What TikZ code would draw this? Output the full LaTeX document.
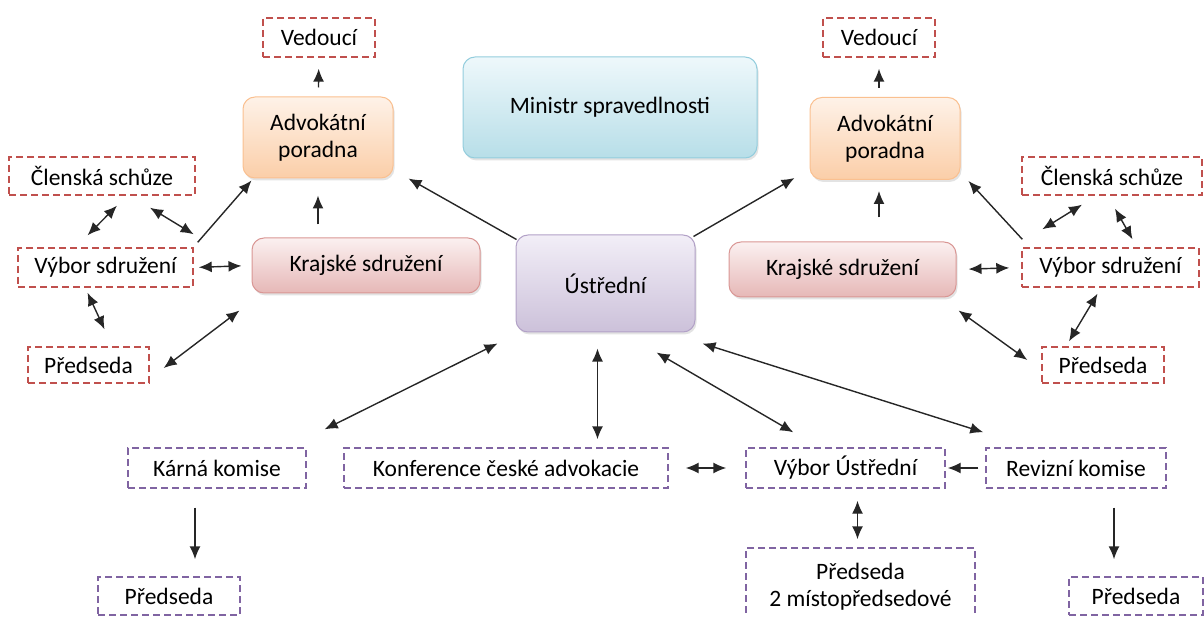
\documentclass[tikz,border=0pt]{standalone}
\usepackage{fontspec}
\setmainfont{Carlito}
\usetikzlibrary{shapes,arrows.meta,positioning,calc,shadows}
\definecolor{boxred}{RGB}{192,80,77}
\definecolor{boxpurple}{RGB}{128,100,162}
\definecolor{ministop}{RGB}{238,248,251}
\definecolor{minisbot}{RGB}{183,222,232}
\definecolor{minisline}{RGB}{147,205,221}
\definecolor{ustrtop}{RGB}{242,238,247}
\definecolor{ustrbot}{RGB}{204,193,218}
\definecolor{ustrline}{RGB}{178,161,199}
\definecolor{advtop}{RGB}{254,242,232}
\definecolor{advbot}{RGB}{251,206,168}
\definecolor{advline}{RGB}{250,192,144}
\definecolor{krajtop}{RGB}{251,240,240}
\definecolor{krajbot}{RGB}{230,184,183}
\definecolor{krajline}{RGB}{217,150,148}

\tikzset{
  solidbox/.style={rectangle, rounded corners=12pt, line width=1pt, align=center, inner sep=0pt,
    drop shadow={opacity=0.22, shadow xshift=1.5pt, shadow yshift=-2.5pt}},
  redbox/.style={rectangle, draw=boxred, dash pattern=on 7pt off 4pt, line width=1.4pt, inner sep=0pt, align=center},
  purplebox/.style={rectangle, draw=boxpurple, dash pattern=on 7pt off 4pt, line width=1.4pt, inner sep=0pt, align=center},
  link/.style={line width=1.4pt, draw=black!85, -{Latex[length=13pt,width=11pt]}},
  both/.style={line width=1.4pt, draw=black!85, {Latex[length=13pt,width=11pt]}-{Latex[length=13pt,width=11pt]}}
}

\begin{document}
\begin{tikzpicture}[x=1pt, y=-1pt, font=\fontsize{23.5}{27}\selectfont]
				\useasboundingbox (0,0) rectangle (1204,617);
				
				% Centre
				\node[solidbox, draw=minisline, top color=ministop, bottom color=minisbot, minimum width=294pt, minimum height=101pt] (minis) at (610,107.5) {Ministr spravedlnosti};
				\node[solidbox, draw=ustrline, top color=ustrtop, bottom color=ustrbot, minimum width=179pt, minimum height=97pt] (ustr) at (605.5,283.5) {Ústřední};
				
				% Left branch
				\node[redbox, minimum width=112pt, minimum height=39pt] (vedL) at (319,37.5) {Vedoucí};
				\node[solidbox, draw=advline, top color=advtop, bottom color=advbot, minimum width=150pt, minimum height=81pt] (advL) at (318,137.5) {Advokátní\\poradna};
				\node[solidbox, draw=krajline, top color=krajtop, bottom color=krajbot, minimum width=228pt, minimum height=55pt] (krajL) at (366,265.5) {Krajské sdružení};
				\node[redbox, minimum width=186pt, minimum height=38pt] (clenL) at (102,176) {Členská schůze};
				\node[redbox, minimum width=175pt, minimum height=39pt] (vybL) at (105.5,267.5) {Výbor sdružení};
				\node[redbox, minimum width=121pt, minimum height=36pt] (predL) at (88.5,365) {Předseda};
				
				% Right branch
				\node[redbox, minimum width=112pt, minimum height=39pt] (vedR) at (879,37.5) {Vedoucí};
				\node[solidbox, draw=advline, top color=advtop, bottom color=advbot, minimum width=150pt, minimum height=82pt] (advR) at (885,138.5) {Advokátní\\poradna};
				\node[solidbox, draw=krajline, top color=krajtop, bottom color=krajbot, minimum width=227pt, minimum height=55pt] (krajR) at (842.5,269.5) {Krajské sdružení};
				\node[redbox, minimum width=180pt, minimum height=38pt] (clenR) at (1112,176) {Členská schůze};
				\node[redbox, minimum width=177pt, minimum height=39pt] (vybR) at (1110.5,267.5) {Výbor sdružení};
				\node[redbox, minimum width=122pt, minimum height=36pt] (predR) at (1103,365) {Předseda};
				
				% Bottom row
				\node[purplebox, minimum width=178pt, minimum height=40pt] (karna) at (217,468) {Kárná komise};
				\node[purplebox, minimum width=324pt, minimum height=40pt] (konf) at (506,468) {Konference české advokacie};
				\node[purplebox, minimum width=199pt, minimum height=40pt] (vybU) at (845.5,468) {Výbor Ústřední};
				\node[purplebox, minimum width=180pt, minimum height=40pt] (reviz) at (1076,468) {Revizní komise};
				\node[purplebox, minimum width=142pt, minimum height=38pt] (predK) at (169,596) {Předseda};
				\node[purplebox, minimum width=229pt, minimum height=78pt] (predU) at (860.5,587) {Předseda\\2 místopředsedové};
				\node[purplebox, minimum width=134pt, minimum height=38pt] (predV) at (1136,596) {Předseda};
				
				% Connections, left
				\draw[link, shorten <=9pt, shorten >=11pt] (advL) -- (vedL);
				\draw[link, shorten <=13pt, shorten >=17pt] (advL.south |- krajL.north) -- (advL.south);
				\draw[link] ([xshift=4pt,yshift=5pt]vybL.north east) -- ([xshift=9pt,yshift=-2pt]advL.south west);
				\draw[both, shorten <=5pt, shorten >=10pt] (vybL.east) -- (krajL.west);
				\draw[both] ([xshift=-18pt,yshift=12pt]vybL.north) -- ([xshift=15pt,yshift=-10pt]clenL.south);
				\draw[both] ([xshift=48pt,yshift=-12pt]clenL.south) -- ([yshift=13pt]vybL.north east);
				\draw[both] ([xshift=-18pt,yshift=-5pt]vybL.south) -- ([xshift=16pt,yshift=17pt]predL.north);
				\draw[both] ([xshift=14pt,yshift=-3pt]predL.east) -- ([xshift=-12pt,yshift=-17pt]krajL.south west);
				\draw[link] ([xshift=1pt,yshift=-5pt]ustr.north west) -- ([xshift=15pt]advL.south east);
				
				% Connections, right
				\draw[link, shorten <=9pt, shorten >=11pt] (vedR.south |- advR.north) -- (vedR.south);
				\draw[link, shorten <=24pt, shorten >=11pt] (vedR.south |- krajR.north) -- (vedR.south |- advR.south);
				\draw[link] ([xshift=1pt,yshift=8pt]vybR.north west) -- ([xshift=8pt,yshift=-1pt]advR.south east);
				\draw[both, shorten <=12pt, shorten >=12pt] (krajR.east) -- (vybR.west);
				\draw[both] ([xshift=21pt,yshift=18pt]vybR.north west) -- ([xshift=-30pt,yshift=-9pt]clenR.south);
				\draw[both] ([xshift=3pt,yshift=-13pt]clenR.south) -- ([xshift=22pt,yshift=8pt]vybR.north);
				\draw[both] ([xshift=-13pt,yshift=-6pt]vybR.south) -- ([xshift=-34pt,yshift=5pt]predR.north);
				\draw[both] ([xshift=2pt,yshift=-13pt]krajR.south east) -- ([xshift=-14pt,yshift=5pt]predR.west);
				\draw[link] ([xshift=-2pt,yshift=-2pt]ustr.north east) -- ([xshift=-15pt,yshift=2pt]advR.south west);
				
				% Connections, bottom
				\draw[both] ([xshift=-18pt,yshift=-11pt]ustr.south west) -- ([xshift=18pt,yshift=18pt]karna.north east);
				\draw[both, shorten <=16pt, shorten >=8pt] ([xshift=-8pt]ustr.south) -- ([xshift=-8pt]ustr.south |- konf.north);
				\draw[both] ([xshift=-39pt,yshift=-20pt]ustr.south east) -- ([xshift=48pt,yshift=15pt]vybU.north west);
				\draw[both] ([xshift=7pt,yshift=-11pt]ustr.south east) -- ([xshift=-2pt,yshift=15pt]reviz.north west);
				\draw[both, shorten <=17pt, shorten >=19pt] (konf.east) -- (vybU.west);
				\draw[link, shorten <=7pt, shorten >=2pt] (reviz.west) -- (vybU.east);
				\draw[both, shorten <=12pt, shorten >=8pt] ([xshift=-3pt]predU.north |- vybU.south) -- ([xshift=-3pt]predU.north);
				\draw[link, shorten <=19pt, shorten >=17pt] ([xshift=-22pt]karna.south) -- ([xshift=-22pt]karna.south |- predK.north);
				\draw[link, shorten <=19pt, shorten >=17pt] ([xshift=-22pt]predV.north |- reviz.south) -- ([xshift=-22pt]predV.north);
			\end{tikzpicture}
\end{document}
